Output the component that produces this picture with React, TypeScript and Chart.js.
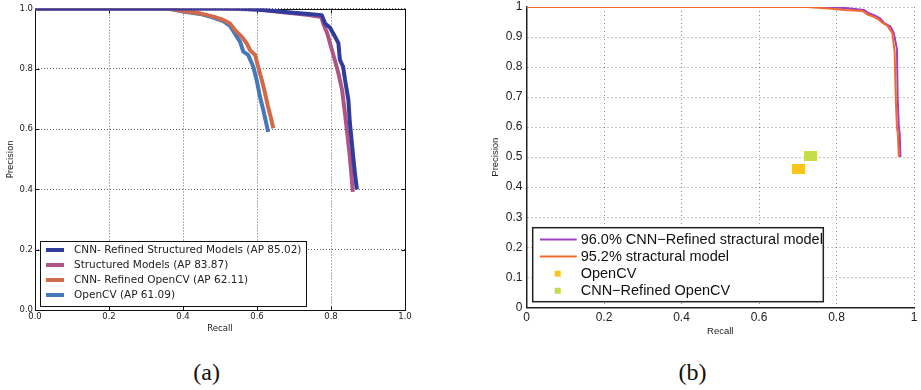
import React, { useEffect, useRef } from "react";
import { Chart, registerables } from "chart.js";
Chart.register(...registerables);

// ---------- (a) data ----------
const aTickLabels = ["0.0", "0.2", "0.4", "0.6", "0.8", "1.0"];
const aSeriesNames = [
  "CNN- Refined Structured Models (AP 85.02)",
  "Structured Models (AP 83.87)",
  "CNN- Refined OpenCV (AP 62.11)",
  "OpenCV (AP 61.09)",
];
const aCnnStructRecall = [0, 0.55, 0.62, 0.69, 0.74, 0.775, 0.784, 0.797, 0.811, 0.82, 0.824, 0.833, 0.838, 0.847, 0.851, 0.856, 0.86, 0.865, 0.87];
const aCnnStructPrecision = [1, 1, 0.995, 0.987, 0.982, 0.978, 0.95, 0.937, 0.906, 0.885, 0.83, 0.806, 0.763, 0.697, 0.62, 0.56, 0.508, 0.45, 0.4];
const aStructRecall = [0, 0.5, 0.6, 0.69, 0.74, 0.774, 0.779, 0.79, 0.8, 0.81, 0.82, 0.83, 0.837, 0.843, 0.848, 0.851, 0.855, 0.859];
const aStructPrecision = [1, 1, 0.997, 0.985, 0.978, 0.972, 0.95, 0.917, 0.873, 0.83, 0.785, 0.73, 0.66, 0.597, 0.54, 0.508, 0.45, 0.392];
const aCnnOpenCVRecall = [0, 0.36, 0.4, 0.446, 0.482, 0.509, 0.527, 0.54, 0.559, 0.572, 0.581, 0.595, 0.603, 0.613, 0.622, 0.63, 0.637, 0.644];
const aCnnOpenCVPrecision = [1, 1, 0.992, 0.984, 0.973, 0.962, 0.95, 0.929, 0.906, 0.885, 0.862, 0.846, 0.807, 0.763, 0.718, 0.673, 0.64, 0.603];
const aOpenCVRecall = [0, 0.36, 0.4, 0.446, 0.482, 0.509, 0.527, 0.54, 0.554, 0.563, 0.576, 0.59, 0.599, 0.608, 0.617, 0.624, 0.63];
const aOpenCVPrecision = [1, 1, 0.99, 0.982, 0.97, 0.958, 0.942, 0.917, 0.89, 0.857, 0.846, 0.807, 0.763, 0.707, 0.663, 0.625, 0.591];

// ---------- (b) data ----------
const bXTickLabels = ["0", "0.2", "0.4", "0.6", "0.8", "1"];
const bYTickLabels = ["0", "0.1", "0.2", "0.3", "0.4", "0.5", "0.6", "0.7", "0.8", "0.9", "1"];
const bSeriesNames = [
  "96.0% CNN\u2212Refined stractural model",
  "95.2% stractural model",
  "OpenCV",
  "CNN\u2212Refined OpenCV",
];
const bCnnStructRecall = [0, 0.73, 0.78, 0.82, 0.871, 0.884, 0.9, 0.913, 0.923, 0.939, 0.948, 0.956, 0.958, 0.961, 0.963, 0.965];
const bCnnStructPrecision = [1, 1, 0.999, 0.997, 0.99, 0.979, 0.971, 0.962, 0.946, 0.935, 0.913, 0.86, 0.69, 0.6, 0.58, 0.5];
const bStructRecall = [0, 0.726, 0.78, 0.82, 0.867, 0.88, 0.895, 0.91, 0.92, 0.931, 0.944, 0.95, 0.953, 0.956, 0.958, 0.961];
const bStructPrecision = [1, 1, 0.995, 0.99, 0.987, 0.975, 0.968, 0.957, 0.946, 0.938, 0.913, 0.851, 0.69, 0.6, 0.58, 0.5];
const bOpenCVRecall = [0.702];
const bOpenCVPrecision = [0.462];
const bCnnOpenCVRecall = [0.732];
const bCnnOpenCVPrecision = [0.504];

const pts = (r: number[], p: number[]) => r.map((x, i) => ({ x, y: p[i] }));

function rectImage(color: string, w: number, h: number) {
  const c = document.createElement("canvas");
  c.width = w;
  c.height = h;
  const g = c.getContext("2d")!;
  g.fillStyle = color;
  g.fillRect(0, 0, w, h);
  return c;
}

const frameA = {
  id: "frameA",
  beforeDatasetsDraw(chart: any) {
    const { ctx, chartArea, scales } = chart;
    const l = Math.round(chartArea.left) + 0.5;
    const t = Math.round(chartArea.top) + 0.5;
    const r = Math.round(chartArea.right) + 0.5;
    const b = Math.round(chartArea.bottom) + 0.5;
    ctx.save();
    ctx.strokeStyle = "#111";
    ctx.lineWidth = 1;
    ctx.strokeRect(l, t, r - l, b - t);
    ctx.beginPath();
    scales.x.ticks.forEach((tk: any) => {
      const px = Math.round(scales.x.getPixelForValue(tk.value)) + 0.5;
      ctx.moveTo(px, b); ctx.lineTo(px, b - 4);
      ctx.moveTo(px, t); ctx.lineTo(px, t + 4);
    });
    scales.y.ticks.forEach((tk: any) => {
      const py = Math.round(scales.y.getPixelForValue(tk.value)) + 0.5;
      ctx.moveTo(l, py); ctx.lineTo(l + 4, py);
      ctx.moveTo(r, py); ctx.lineTo(r - 4, py);
    });
    ctx.stroke();
    ctx.restore();
  },
};

const legendA = {
  id: "legendA",
  afterDatasetsDraw(chart: any) {
    const { ctx, chartArea } = chart;
    const bx = Math.round(chartArea.left + 5);
    const by = Math.round(chartArea.bottom - 69);
    const bw = 266;
    const bh = 65;
    ctx.save();
    ctx.fillStyle = "#fff";
    ctx.fillRect(bx, by, bw, bh);
    ctx.strokeStyle = "#111";
    ctx.lineWidth = 1;
    ctx.strokeRect(bx + 0.5, by + 0.5, bw, bh);
    ctx.font = '10.5px "DejaVu Sans"';
    ctx.textBaseline = "middle";
    chart.data.datasets.forEach((ds: any, i: number) => {
      const y = by + 9 + i * 15;
      ctx.strokeStyle = ds.borderColor;
      ctx.lineWidth = 4;
      ctx.lineCap = "butt";
      ctx.beginPath();
      ctx.moveTo(bx + 6, y);
      ctx.lineTo(bx + 24, y);
      ctx.stroke();
      ctx.fillStyle = "#222";
      ctx.fillText(ds.label, bx + 34, y);
    });
    ctx.restore();
  },
};

const legendB = {
  id: "legendB",
  afterDatasetsDraw(chart: any) {
    const { ctx, chartArea } = chart;
    const bx = chartArea.left + 6.2;
    const by = chartArea.bottom - 79.6;
    const bw = 290.6;
    const bh = 74;
    ctx.save();
    ctx.fillStyle = "#fff";
    ctx.fillRect(bx, by, bw, bh);
    ctx.strokeStyle = "#222";
    ctx.lineWidth = 1.5;
    ctx.strokeRect(bx, by, bw, bh);
    ctx.font = '14.5px "Liberation Sans"';
    ctx.textBaseline = "middle";
    chart.data.datasets.forEach((ds: any, i: number) => {
      const y = by + 11.8 + i * 17.1;
      if (ds.showLine) {
        ctx.strokeStyle = ds.borderColor;
        ctx.lineWidth = 2;
        ctx.beginPath();
        ctx.moveTo(bx + 7.3, y);
        ctx.lineTo(bx + 44, y);
        ctx.stroke();
      } else {
        ctx.fillStyle = ds.backgroundColor;
        ctx.fillRect(bx + 22, y - 3, 6, 6);
      }
      ctx.fillStyle = "#111";
      ctx.fillText(ds.label, bx + 48, y);
    });
    ctx.restore();
  },
};

function PlotA() {
  const ref = useRef<HTMLCanvasElement>(null);
  useEffect(() => {
    const fontA = { family: '"DejaVu Sans"', size: 8.5 };
    const lineDs = (label: string, r: number[], p: number[], color: string) => ({
      label,
      data: pts(r, p),
      showLine: true,
      borderColor: color,
      backgroundColor: color,
      borderWidth: 4,
      borderJoinStyle: "round" as const,
      pointRadius: 0,
      tension: 0,
    });
    const chart = new Chart(ref.current!, {
      type: "scatter",
      data: {
        datasets: [
          lineDs(aSeriesNames[0], aCnnStructRecall, aCnnStructPrecision, "#2F3C9B"),
          lineDs(aSeriesNames[1], aStructRecall, aStructPrecision, "#AE5588"),
          lineDs(aSeriesNames[2], aCnnOpenCVRecall, aCnnOpenCVPrecision, "#D2694B"),
          lineDs(aSeriesNames[3], aOpenCVRecall, aOpenCVPrecision, "#4479BA"),
        ],
      },
      options: {
        responsive: false,
        animation: false,
        events: [],
        layout: { padding: { left: 0, top: 8.5, right: 55, bottom: 0 } },
        plugins: { legend: { display: false }, tooltip: { enabled: false } },
        scales: {
          x: {
            type: "linear",
            min: 0,
            max: 1,
            ticks: {
              stepSize: 0.2,
              padding: 2,
              color: "#222",
              font: fontA,
              maxRotation: 0,
              autoSkip: false,
              callback: (_v: any, i: number) => aTickLabels[i],
            },
            grid: { color: "rgba(0,0,0,0.6)", lineWidth: 1, drawTicks: false },
            border: { display: false, dash: [1, 2] },
            title: { display: true, text: "Recall", color: "#222", font: fontA, padding: { top: 0, bottom: 5.9 } },
            afterFit: (s: any) => {
              s.height = 30;
              s.paddingLeft = 0; s.paddingRight = 0; s.paddingTop = 0; s.paddingBottom = 0;
            },
          },
          y: {
            type: "linear",
            min: 0,
            max: 1,
            ticks: {
              stepSize: 0.2,
              padding: 2,
              color: "#222",
              font: fontA,
              autoSkip: false,
              callback: (_v: any, i: number) => aTickLabels[i],
            },
            grid: { color: "rgba(0,0,0,0.6)", lineWidth: 1, drawTicks: false },
            border: { display: false, dash: [1, 2] },
            title: { display: true, text: "Precision", color: "#222", font: fontA, padding: { top: 5.6, bottom: 0 } },
            afterFit: (s: any) => {
              s.width = 35;
              s.paddingLeft = 0; s.paddingRight = 0; s.paddingTop = 0; s.paddingBottom = 0;
            },
          },
        },
      } as any,
      plugins: [frameA, legendA],
    });
    return () => chart.destroy();
  }, []);
  return (
    <canvas
      ref={ref}
      width={460}
      height={340}
      style={{ position: "absolute", left: 0, top: 0, width: 460, height: 340 }}
    />
  );
}

function PlotB() {
  const ref = useRef<HTMLCanvasElement>(null);
  useEffect(() => {
    const tickFont = { family: '"Liberation Sans"', size: 12 };
    const titleFont = { family: '"Liberation Sans"', size: 9.5 };
    const lineDs = (label: string, r: number[], p: number[], color: string, order: number) => ({
      label,
      data: pts(r, p),
      showLine: true,
      borderColor: color,
      backgroundColor: color,
      borderWidth: 2,
      pointRadius: 0,
      tension: 0,
      order,
    });
    const sqDs = (label: string, r: number[], p: number[], color: string, order: number) => ({
      label,
      data: pts(r, p),
      showLine: false,
      borderColor: color,
      backgroundColor: color,
      pointStyle: rectImage(color, 13, 10),
      pointRadius: 6,
      order,
    });
    const chart = new Chart(ref.current!, {
      type: "scatter",
      data: {
        datasets: [
          lineDs(bSeriesNames[0], bCnnStructRecall, bCnnStructPrecision, "#A040C4", 3),
          lineDs(bSeriesNames[1], bStructRecall, bStructPrecision, "#F26A2C", 2),
          sqDs(bSeriesNames[2], bOpenCVRecall, bOpenCVPrecision, "#F7C51C", 1),
          sqDs(bSeriesNames[3], bCnnOpenCVRecall, bCnnOpenCVPrecision, "#C6DD4A", 0),
        ],
      },
      options: {
        responsive: false,
        animation: false,
        events: [],
        layout: { padding: { left: 0, top: 5.3, right: 4, bottom: 0 } },
        plugins: { legend: { display: false }, tooltip: { enabled: false } },
        scales: {
          x: {
            type: "linear",
            min: 0,
            max: 1,
            ticks: {
              stepSize: 0.2,
              padding: 3.5,
              color: "#222",
              font: tickFont,
              maxRotation: 0,
              autoSkip: false,
              callback: (_v: any, i: number) => bXTickLabels[i],
            },
            grid: { color: "rgba(0,0,0,0.45)", lineWidth: 1, drawTicks: false },
            border: { display: true, color: "#222", width: 1.5, dash: [1, 3] },
            title: { display: true, text: "Recall", color: "#222", font: titleFont, padding: { top: 0, bottom: 8.3 } },
            afterFit: (s: any) => {
              s.height = 37.7;
              s.paddingLeft = 0; s.paddingRight = 0; s.paddingTop = 0; s.paddingBottom = 0;
            },
          },
          y: {
            type: "linear",
            min: 0,
            max: 1,
            ticks: {
              stepSize: 0.1,
              padding: 4,
              color: "#222",
              font: tickFont,
              autoSkip: false,
              callback: (_v: any, i: number) => bYTickLabels[i],
            },
            grid: { color: "rgba(0,0,0,0.45)", lineWidth: 1, drawTicks: false },
            border: { display: true, color: "#222", width: 1.5, dash: [1, 3] },
            title: { display: true, text: "Precision", color: "#222", font: titleFont, padding: { top: 29.3, bottom: 0 } },
            afterFit: (s: any) => {
              s.width = 66.5;
              s.paddingLeft = 0; s.paddingRight = 0; s.paddingTop = 0; s.paddingBottom = 0;
            },
          },
        },
      } as any,
      plugins: [legendB],
    });
    return () => chart.destroy();
  }, []);
  return (
    <canvas
      ref={ref}
      width={461}
      height={345}
      style={{ position: "absolute", left: 460, top: 0, width: 461, height: 345 }}
    />
  );
}

const captionStyle = (cx: number): React.CSSProperties => ({
  position: "absolute",
  left: cx - 40,
  top: 360,
  width: 80,
  textAlign: "center",
  fontFamily: '"Liberation Serif", serif',
  fontSize: 24,
  lineHeight: "24px",
  color: "#111",
});

export default function App() {
  return (
    <div style={{ position: "absolute", left: 0, top: 0, width: 921, height: 390, background: "#fff", overflow: "hidden" }}>
      <PlotA />
      <PlotB />
      <div style={captionStyle(206.7)}>(a)</div>
      <div style={captionStyle(692.5)}>(b)</div>
    </div>
  );
}
